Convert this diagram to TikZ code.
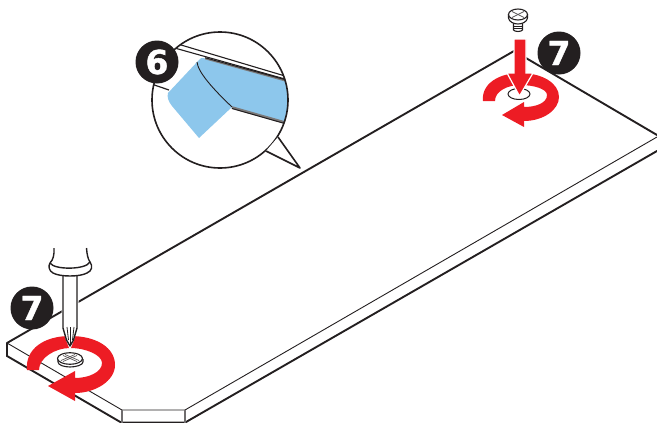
\documentclass[tikz,border=0pt]{standalone}
\usepackage{fontspec}
\setmainfont{DejaVu Sans}
\newfontfamily\badgefont[BoldFeatures={FakeBold=1.2}]{DejaVu Sans}
\definecolor{ink}{HTML}{231F20}
\definecolor{msired}{HTML}{ED1C24}
\definecolor{tape}{HTML}{8DC7EC}
\tikzset{
  heavy/.style={draw=ink,line width=1.9pt,line cap=round},
  thinline/.style={draw=ink,line width=0.9pt},
  edgegray/.style={draw=ink!65,line width=1.1pt},
  outline/.style={draw=ink,line width=1.6pt,line join=round},
  redshape/.style={fill=msired,draw=none},
  badge/.style={circle,fill=ink,text=white,minimum size=43pt,inner sep=0pt,
    font=\badgefont\fontsize{33}{33}\selectfont\bfseries},
  cross/.style={draw=ink!75,line width=0.7pt}
}
\begin{document}
\begin{tikzpicture}[x=1pt,y=-1pt]
\useasboundingbox (0,0) rectangle (657,423);
% board
\coordinate (apex) at (514,51);
\coordinate (lc) at (7,343);
\coordinate (rc) at (657,135);
\draw[heavy] (lc) -- (apex) -- (rc);
\draw[thinline] (lc) -- (122,410) -- (185,410) -- (657,137);
\draw[heavy] (lc) -- (7,356) -- (122,423);
\draw[heavy] (122,422.6) -- (185,422.6) -- (657,151);
\draw[edgegray] (122,410) -- (122,423);
\draw[edgegray] (185,410) -- (185,423);
% callout
\fill[white] (220,100) circle (68);
\begin{scope}
\clip (220,100) circle (68);
\path[fill=tape] (203,58) -- (290,82) -- (290,124) -- (232,107) -- (199,138) -- (172,106)
  .. controls (168,101) and (167,97) .. (168,93) -- (199,60)
  .. controls (200,58) and (202,58) .. (203,58) -- cycle;
\draw[draw=ink,line width=1.1pt] (170,41.7) -- (290,77.5);
\draw[draw=ink,line width=1.1pt] (170,46.7) -- (290,80.4);
\draw[draw=ink!60,line width=1.6pt] (205,58.5) -- (290,82);
\draw[draw=ink!60,line width=2.6pt] (232,107.5) -- (290,124);
\draw[draw=ink,line width=1pt] (232,108.5) -- (290,125);
\draw[draw=ink,line width=1pt] (205,57.7) -- (290,81);
\draw[draw=ink,line width=1.2pt] (150,83.5) -- (169,90);
\draw[draw=ink,line width=0.9pt] (197,62) .. controls (198,72) and (212,88) .. (232,107);
\end{scope}
\draw[outline] (220,100) circle (68);
\fill[white] (278,137) -- (300,168) -- (266,151) -- cycle;
\draw[outline] (278,137) -- (300,168) -- (266,151);
% left red arrow
\path[redshape] (27,370) .. controls (25,349) and (44,336) .. (70,336)
  .. controls (97,336) and (115,348) .. (115,365)
  .. controls (115,381) and (95,393) .. (75,393)
  -- (75,401) -- (48,386) -- (75,371) -- (75,378)
  .. controls (89,378) and (102,372) .. (102,363)
  .. controls (102,355) and (86,348) .. (70,348)
  .. controls (55,348) and (39,358) .. (39,370) -- cycle;
% left screw
\draw[draw=ink,line width=1.1pt,fill=white] (58,359) -- (58,362)
  .. controls (58,365) and (64,367) .. (70,367)
  .. controls (76,367) and (83,365) .. (83,362) -- (83,359);
\draw[draw=ink,line width=1.1pt,fill=white] (70,358.5) ellipse (12.5 and 5.8);
\draw[cross] (63,355.5) -- (77,361.5);
\draw[cross] (63,361.5) -- (77,355.5);
\draw[cross] (65,354.5) -- (79,360.5);
\draw[cross] (61,360.5) -- (75,354.5);
% screwdriver
\path[fill=white,draw=white,line width=3pt] (63,277) -- (63,328) -- (70,346) -- (77,328) -- (77,277) -- cycle;
\draw[draw=ink,line width=1.4pt,fill=white,line join=round] (63,276) -- (63,328) -- (66.5,340) -- (70,346) -- (73.5,340) -- (77,328) -- (77,276);
\draw[draw=ink,line width=0.8pt] (67,327) -- (68.5,340);
\draw[draw=ink,line width=0.8pt] (70.5,327) -- (70.5,346);
\draw[draw=ink,line width=0.8pt] (74,327) -- (72.5,340);
\draw[draw=ink,line width=1.4pt,fill=white] (54,248) .. controls (54.5,255) and (53,260) .. (50,263)
  .. controls (48,266) and (49,271) .. (53,273)
  .. controls (60,277) and (80,277) .. (87,273)
  .. controls (92,271) and (93,266) .. (90,262)
  .. controls (88,259) and (87,255) .. (86.5,248);
\draw[draw=ink,line width=1.4pt] (50,263) .. controls (54,270) and (86,270) .. (90,262);
% right hole
\draw[draw=ink,line width=1pt] (519,94) ellipse (11 and 5.5);
% right red arrow
\path[redshape] (483,101) .. controls (481,84) and (499,73) .. (520,73)
  .. controls (542,73) and (559,83) .. (559,97)
  .. controls (559,110) and (543,121) .. (524,121)
  -- (524,127) -- (502,115) -- (524,102) -- (524,107)
  .. controls (536,107) and (547,103) .. (547,95)
  .. controls (547,89) and (534,85) .. (520,85)
  .. controls (508,85) and (495,91) .. (495,101) -- cycle;
\path[fill=msired,draw=white,line width=1.2pt,line join=miter] (514,39) -- (526,39) -- (526,73) -- (533,73) -- (519.5,96) -- (507,73) -- (514,73) -- cycle;
% right screw
\draw[draw=ink,line width=1.1pt,fill=white] (513.5,23) -- (513.5,30) .. controls (515,32) and (521,32) .. (522.5,30) -- (522.5,23);
\draw[draw=ink,line width=0.7pt] (513.5,26) -- (522.5,26);
\draw[draw=ink,line width=0.7pt] (513.5,28.5) -- (522.5,28.5);
\draw[draw=ink,line width=1.1pt,fill=white] (508.5,14) -- (508.5,18)
  .. controls (509,22) and (514,24) .. (518,24)
  .. controls (522,24) and (527,22) .. (527.5,18) -- (527.5,14);
\draw[draw=ink,line width=1.1pt,fill=white] (518,14.5) ellipse (9.5 and 5.5);
\draw[cross] (512,11.5) -- (524,17.5);
\draw[cross] (512,17.5) -- (524,11.5);
% badges
\node[badge] (six) at (157,62) {6};
\node[badge] (sevenL) at (32,308) {7};
\node[badge] (sevenR) at (559,53) {7};
\end{tikzpicture}
\end{document}
